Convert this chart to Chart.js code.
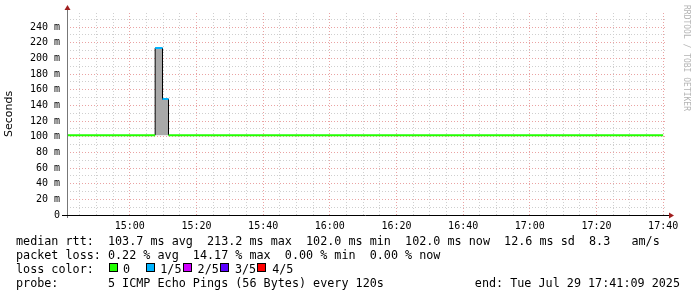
<!DOCTYPE html>
<html lang="en">
<head>
    <meta charset="UTF-8">
    <title>Smokeping median rtt</title>
    <script src="https://cdn.jsdelivr.net/npm/chart.js"></script>
    <style>
        body {
            margin: 0;
            background: #fff;
        }
        .wrap {
            position: relative;
            width: 697px;
            height: 297px;
            overflow: hidden;
        }
        canvas {
            position: absolute;
            left: 0;
            top: 0;
        }
        .legend {
            position: absolute;
            left: 16px;
            top: 234px;
            font: 11.75px "DejaVu Sans Mono", monospace;
            line-height: 14px;
            white-space: pre;
            color: #000;
        }
        .end {
            position: absolute;
            right: 17px;
            top: 276px;
            font: 11.75px "DejaVu Sans Mono", monospace;
            line-height: 14px;
            white-space: pre;
        }
        .box {
            position: absolute;
            width: 7px;
            height: 7px;
            border: 1px solid #000;
            top: 263px;
        }
        .lbl {
            position: absolute;
            top: 262px;
            font: 11.75px "DejaVu Sans Mono", monospace;
            line-height: 14px;
        }
    </style>
</head>
<body>
<div class="wrap" id="wrap">
    <canvas id="chart" width="697" height="297"></canvas>
    <div class="legend" id="legend"></div>
    <div class="end">end: Tue Jul 29 17:41:09 2025</div>
</div>

<script>
    // time axis: 3 hours ending 17:41:09, minutes of the day
    const windowStart = '14:41:09';
    const windowEnd = '17:41:09';
    const xTickLabels = ['15:00', '15:20', '15:40', '16:00', '16:20', '16:40', '17:00', '17:20', '17:40'];
    const yTickLabels = ['0', '20 m', '40 m', '60 m', '80 m', '100 m', '120 m', '140 m', '160 m', '180 m', '200 m', '220 m', '240 m'];

    // step boundaries, each value holds from stepTimes[i] to stepTimes[i+1]
    const stepTimes = ['14:41:09', '15:07:36', '15:09:48', '15:11:36', '17:40:00'];
    const medianRtt = [102.0, 213.2, 148.0, 102.0];   // ms
    const lossCount = [0, 1, 1, 0];                    // lost of 5
    const smokeMin = [102.0, 102.0, 102.0, 102.0];
    const smokeMax = [102.0, 213.2, 148.0, 102.0];

    const lossLabels = ['0', '1/5', '2/5', '3/5', '4/5'];
    const lossColors = ['#22ff00', '#00b4ff', '#d000ff', '#5a00ff', '#ff0000'];

    function toMin(s) {
        const p = s.split(':').map(Number);
        return p[0] * 60 + p[1] + (p[2] || 0) / 60;
    }

    const xMin = toMin(windowStart);
    const xMax = toMin(windowEnd);
    const t = stepTimes.map(toMin);

    // median line, one dataset per loss level
    const medianSets = [];
    lossColors.forEach((color, lvl) => {
        const pts = [];
        for (let i = 0; i < medianRtt.length; i++) {
            if (lossCount[i] !== lvl) continue;
            pts.push({x: t[i], y: medianRtt[i]});
            pts.push({x: t[i + 1], y: medianRtt[i]});
            pts.push({x: t[i + 1], y: null});
        }
        if (pts.length) {
            medianSets.push({
                data: pts,
                borderColor: color,
                borderWidth: 2,
                pointRadius: 0,
                fill: false,
                spanGaps: false,
                order: 1
            });
        }
    });

    // smoke between min and max ping where they differ
    const smokeHi = [];
    const smokeLo = [];
    const idx = [];
    for (let i = 0; i < smokeMax.length; i++) if (smokeMax[i] > smokeMin[i]) idx.push(i);
    if (idx.length) {
        const a = idx[0];
        smokeHi.push({x: t[a], y: smokeMin[a]});
        smokeLo.push({x: t[a], y: smokeMin[a]});
        idx.forEach(i => {
            smokeHi.push({x: t[i], y: smokeMax[i]});
            smokeHi.push({x: t[i + 1], y: smokeMax[i]});
            smokeLo.push({x: t[i], y: smokeMin[i]});
            smokeLo.push({x: t[i + 1], y: smokeMin[i]});
        });
        const b = idx[idx.length - 1];
        smokeHi.push({x: t[b + 1], y: smokeMin[b]});
        smokeLo.push({x: t[b + 1], y: smokeMin[b]});
    }

    const datasets = [
        ...medianSets,
        {
            data: smokeLo,
            borderWidth: 0,
            pointRadius: 0,
            fill: false,
            order: 3
        },
        {
            data: smokeHi,
            borderColor: '#000',
            borderWidth: 1,
            backgroundColor: '#a9a9a9',
            pointRadius: 0,
            fill: '-1',
            order: 2
        }
    ];

    // x ticks every 5 minutes, labelled every 20
    const xTicks = [];
    for (let m = Math.ceil(xMin / 5) * 5; m <= xMax; m += 5) xTicks.push(m);
    const yTicks = [];
    for (let v = 0; v <= 250; v += 10) yTicks.push(v);

    const majorGrid = '#eaa3a3';
    const minorGrid = '#cfcfcf';

    const decor = {
        id: 'decor',
        afterDraw(chart) {
            const ctx = chart.ctx;
            const a = chart.chartArea;
            ctx.save();
            // y axis
            ctx.strokeStyle = '#777';
            ctx.lineWidth = 1;
            ctx.beginPath();
            ctx.moveTo(a.left + 0.5, a.bottom + 3);
            ctx.lineTo(a.left + 0.5, a.top - 4);
            ctx.stroke();
            // x axis
            ctx.strokeStyle = '#000';
            ctx.beginPath();
            ctx.moveTo(a.left - 5, a.bottom + 0.5);
            ctx.lineTo(a.right + 2, a.bottom + 0.5);
            ctx.stroke();
            // arrows
            ctx.fillStyle = '#a01e1e';
            ctx.beginPath();
            ctx.moveTo(a.left + 0.5, a.top - 8);
            ctx.lineTo(a.left - 2.5, a.top - 3);
            ctx.lineTo(a.left + 3.5, a.top - 3);
            ctx.closePath();
            ctx.fill();
            ctx.beginPath();
            ctx.moveTo(a.right + 7, a.bottom + 0.5);
            ctx.lineTo(a.right + 2, a.bottom - 2.5);
            ctx.lineTo(a.right + 2, a.bottom + 3.5);
            ctx.closePath();
            ctx.fill();
            // watermark
            ctx.translate(686, 5);
            ctx.rotate(Math.PI / 2);
            ctx.fillStyle = '#b4b4b4';
            ctx.font = '8px "DejaVu Sans Mono"';
            ctx.textBaseline = 'middle';
            ctx.fillText('RRDTOOL / TOBI OETIKER', 0, 0);
            ctx.restore();
        }
    };

    new Chart(document.getElementById('chart'), {
        type: 'line',
        data: {datasets: datasets},
        options: {
            responsive: false,
            animation: false,
            layout: {padding: {top: 13, right: 30, left: 0, bottom: 0}},
            plugins: {
                legend: {display: false},
                tooltip: {enabled: false}
            },
            scales: {
                x: {
                    type: 'linear',
                    min: xMin,
                    max: xMax,
                    afterBuildTicks: s => { s.ticks = xTicks.map(v => ({value: v})); },
                    afterFit: s => { s.height = 82; },
                    border: {display: false, dash: [1, 2]},
                    grid: {
                        drawTicks: false,
                        color: c => (c.tick && c.tick.value % 20 === 0) ? majorGrid : minorGrid
                    },
                    ticks: {
                        autoSkip: false,
                        maxRotation: 0,
                        padding: 5,
                        color: '#000',
                        font: {family: 'DejaVu Sans Mono', size: 10},
                        callback: v => {
                            if (v % 20 !== 0) return '';
                            const i = (v - 900) / 20;
                            return xTickLabels[i] || '';
                        }
                    }
                },
                y: {
                    min: 0,
                    max: 258,
                    afterBuildTicks: s => { s.ticks = yTicks.map(v => ({value: v})); },
                    afterFit: s => { s.width = 67; },
                    border: {display: false, dash: [1, 2]},
                    grid: {
                        drawTicks: false,
                        color: c => (c.tick && c.tick.value % 20 === 0) ? majorGrid : minorGrid
                    },
                    title: {
                        display: true,
                        text: 'Seconds',
                        color: '#000',
                        font: {family: 'DejaVu Sans', size: 11},
                        padding: {top: 3, bottom: 0}
                    },
                    ticks: {
                        autoSkip: false,
                        padding: 7,
                        color: '#000',
                        font: {family: 'DejaVu Sans Mono', size: 10},
                        callback: v => v % 20 === 0 ? yTickLabels[v / 20] : ''
                    }
                }
            }
        },
        plugins: [decor]
    });

    // text legend below the graph
    const legend = document.getElementById('legend');
    legend.textContent =
        'median rtt:  103.7 ms avg  213.2 ms max  102.0 ms min  102.0 ms now  12.6 ms sd  8.3   am/s\n' +
        'packet loss: 0.22 % avg  14.17 % max  0.00 % min  0.00 % now\n' +
        'loss color:\n' +
        'probe:       5 ICMP Echo Pings (56 Bytes) every 120s';

    const wrap = document.getElementById('wrap');
    lossLabels.forEach((lab, i) => {
        const box = document.createElement('div');
        box.className = 'box';
        box.style.left = (109 + i * 37) + 'px';
        box.style.background = lossColors[i];
        wrap.appendChild(box);
        const txt = document.createElement('div');
        txt.className = 'lbl';
        txt.style.left = (123 + i * 37.3) + 'px';
        txt.textContent = lab;
        wrap.appendChild(txt);
    });
</script>
</body>
</html>
